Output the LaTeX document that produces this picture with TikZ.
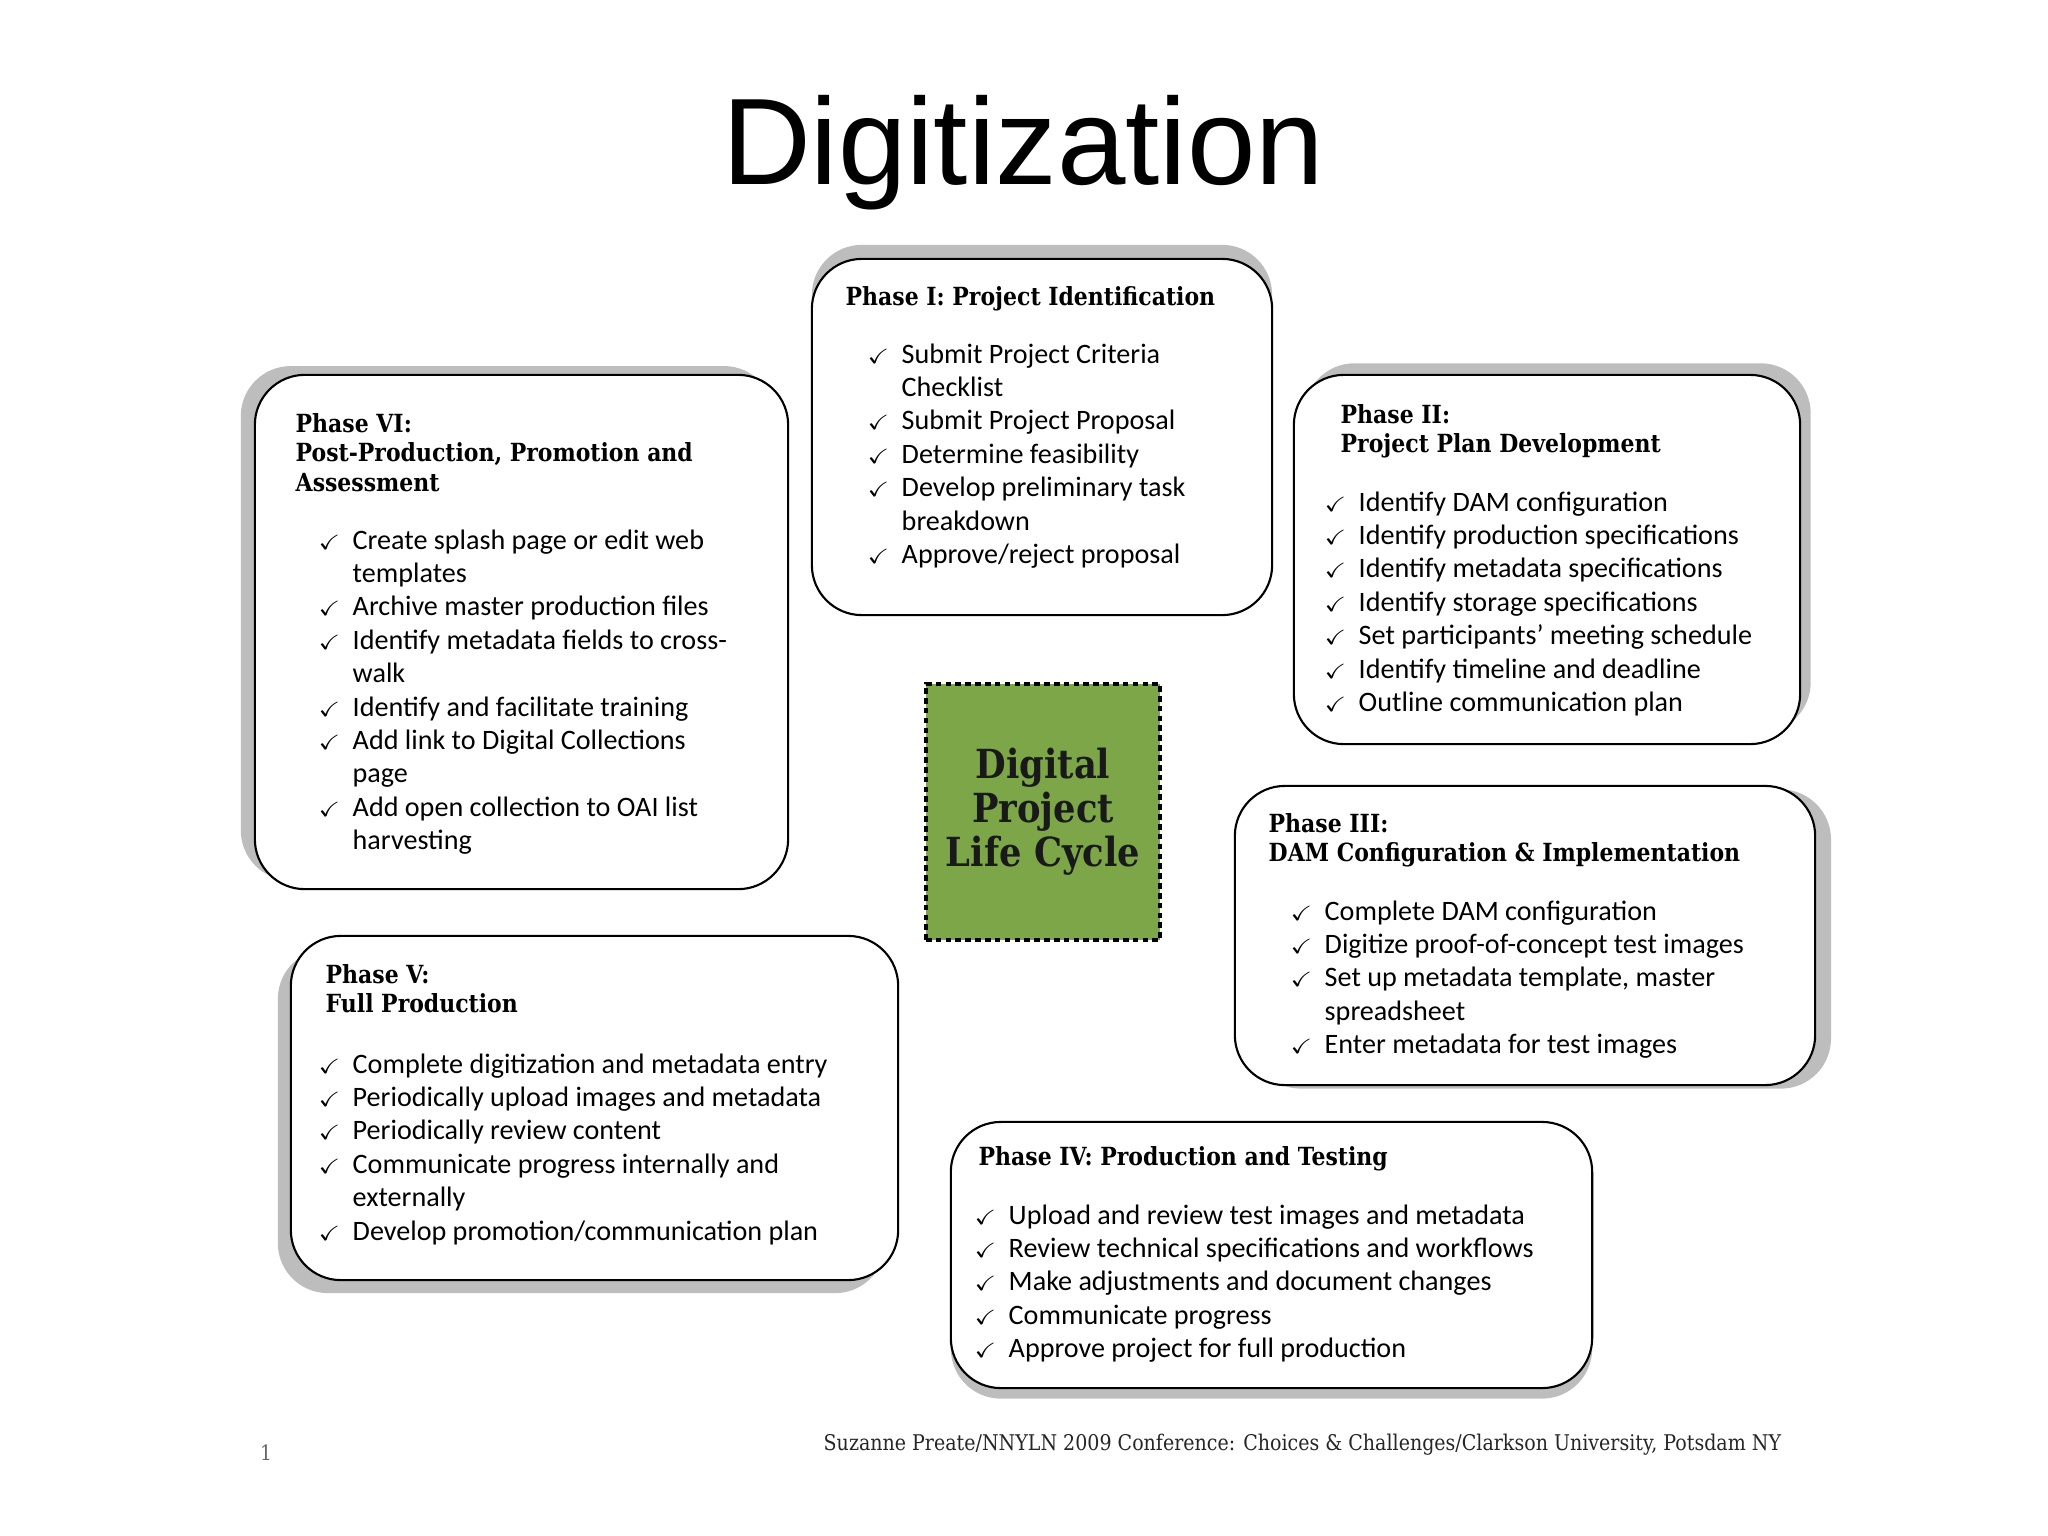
\documentclass[tikz,border=0pt]{standalone}
\usepackage{fontspec}
\usepackage{amssymb}
\setmainfont{Carlito}
\newfontfamily\slabfont[FakeStretch=0.88]{DejaVu Serif}
\newfontfamily\titlefont{Liberation Sans}
\usetikzlibrary{shadows}
\definecolor{cyclegreen}{RGB}{124,166,72}
% one column of lines, baseline on the first one
\newcommand{\lines}[1]{\begin{tabular}[t]{@{}l@{}}#1\end{tabular}}
\newcommand{\tick}{\makebox[0.35cm][l]{\fontsize{5.8}{5.8}\selectfont$\checkmark$}}
\newcommand{\gap}{\hspace*{0.35cm}}
\tikzset{%
  % Specifications for style of nodes:
       phase/.style 2 args = {rectangle, rounded corners=0.5cm, draw=black,
                              line width=0.6pt, fill=white,
                              drop shadow={shadow xshift=#1, shadow yshift=#2,
                                           fill=black!32, opacity=0.8}},
    headtext/.style = {inner sep=0pt, anchor=base west,
                       font=\slabfont\bfseries\fontsize{7.1}{8.5}\selectfont},
    itemtext/.style = {inner sep=0pt, anchor=base west,
                       font=\fontsize{8}{9.5}\selectfont},
   lifecycle/.style = {rectangle, fill=cyclegreen, draw=black, line width=1.3pt,
                       dash pattern=on 1.6pt off 1.2pt, align=center,
                       minimum width=2.34cm, minimum height=2.56cm,
                       text=black!90,
                       font=\slabfont\bfseries\fontsize{11.4}{12.5}\selectfont},
}

\begin{document}
\begin{tikzpicture}[x=0.01cm, y=-0.01cm]
\useasboundingbox[fill=white] (0,0) rectangle (2048,1536);
% Title
\node (title) [anchor=base, inner sep=0pt,
  font=\titlefont\fontsize{35}{40}\selectfont] at (1023,184) {Digitization};
% Specification of phase boxes (position, size, shadow)
\node (ident)      [phase={0pt}{4pt}, minimum width=4.60cm, minimum height=3.56cm]
                                                        at (1042,437) {};
\node (plan)       [phase={3pt}{3.3pt}, minimum width=5.06cm, minimum height=3.69cm]
                                                        at (1547,559.5) {};
\node (config)     [phase={4.5pt}{-1pt}, minimum width=5.80cm, minimum height=2.99cm]
                                                        at (1525,935.5) {};
\node (testing)    [phase={0pt}{-3pt}, minimum width=6.41cm, minimum height=2.66cm]
                                                        at (1271.5,1255) {};
\node (production) [phase={-3.7pt}{-3.7pt}, minimum width=6.07cm, minimum height=3.44cm]
                                                        at (594.5,1108) {};
\node (post)       [phase={-4pt}{2.5pt}, minimum width=5.33cm, minimum height=5.14cm]
                                                        at (521.5,632) {};
% Centre of the cycle
\node (lifecycle)  [lifecycle] at (1043,812) {Digital\\Project\\Life Cycle};
% Phase I
\node (identhead) [headtext] at (845,305) {\lines{Phase I: Project Identification}};
\node (identlist) [itemtext] at (866,363) {\lines{%
  \tick Submit Project Criteria\\ \gap Checklist\\
  \tick Submit Project Proposal\\
  \tick Determine feasibility\\
  \tick Develop preliminary task\\ \gap breakdown\\
  \tick Approve/reject proposal}};
% Phase II
\node (planhead) [headtext] at (1340,423) {\lines{Phase II:\\ Project Plan Development}};
\node (planlist) [itemtext] at (1323,511) {\lines{%
  \tick Identify DAM configuration\\
  \tick Identify production specifications\\
  \tick Identify metadata specifications\\
  \tick Identify storage specifications\\
  \tick Set participants' meeting schedule\\
  \tick Identify timeline and deadline\\
  \tick Outline communication plan}};
% Phase III
\node (confighead) [headtext] at (1268,832) {\lines{Phase III:\\ DAM Configuration \& Implementation}};
\node (configlist) [itemtext] at (1289,920) {\lines{%
  \tick Complete DAM configuration\\
  \tick Digitize proof-of-concept test images\\
  \tick Set up metadata template, master\\ \gap spreadsheet\\
  \tick Enter metadata for test images}};
% Phase IV
\node (testinghead) [headtext] at (978,1165) {\lines{Phase IV: Production and Testing}};
\node (testinglist) [itemtext] at (973,1224) {\lines{%
  \tick Upload and review test images and metadata\\
  \tick Review technical specifications and workflows\\
  \tick Make adjustments and document changes\\
  \tick Communicate progress\\
  \tick Approve project for full production}};
% Phase V
\node (productionhead) [headtext] at (325,983) {\lines{Phase V:\\ Full Production}};
\node (productionlist) [itemtext] at (317,1073) {\lines{%
  \tick Complete digitization and metadata entry\\
  \tick Periodically upload images and metadata\\
  \tick Periodically review content\\
  \tick Communicate progress internally and\\ \gap externally\\
  \tick Develop promotion/communication plan}};
% Phase VI
\node (posthead) [headtext] at (295,432) {\lines{Phase VI:\\
  Post-Production, Promotion and\\ Assessment}};
\node (postlist) [itemtext] at (317,549) {\lines{%
  \tick Create splash page or edit web\\ \gap templates\\
  \tick Archive master production files\\
  \tick Identify metadata fields to cross-\\ \gap walk\\
  \tick Identify and facilitate training\\
  \tick Add link to Digital Collections\\ \gap page\\
  \tick Add open collection to OAI list\\ \gap harvesting}};
% Footer
\node (credit) [anchor=base west, inner sep=0pt, text=black!85,
  font=\slabfont\fontsize{6.15}{8}\selectfont] at (823,1450)
  {Suzanne Preate/NNYLN 2009 Conference: Choices \& Challenges/Clarkson University, Potsdam NY};
\node (pagenum) [anchor=base, inner sep=0pt, text=black!60,
  font=\slabfont\fontsize{6}{7}\selectfont] at (266,1460) {1};
\end{tikzpicture}
\end{document}
